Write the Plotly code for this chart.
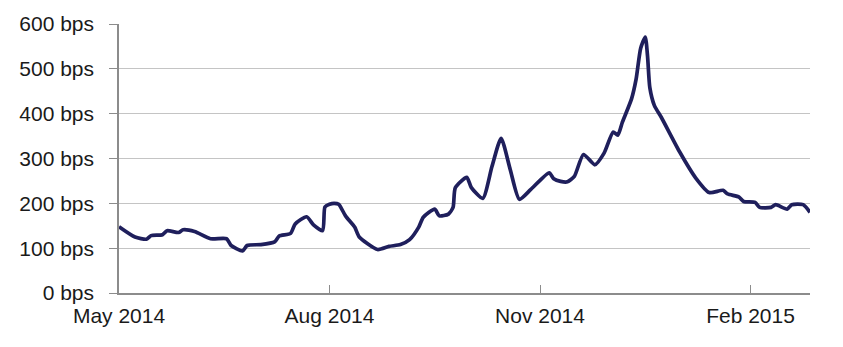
import plotly.graph_objects as go

dates = [
    "2014-05-01", "2014-05-08", "2014-05-13", "2014-05-15", "2014-05-20", "2014-05-22",
    "2014-05-27", "2014-05-29", "2014-06-03", "2014-06-10", "2014-06-17", "2014-06-19",
    "2014-06-24", "2014-06-26", "2014-07-02", "2014-07-08", "2014-07-10", "2014-07-15",
    "2014-07-17", "2014-07-22", "2014-07-25", "2014-07-29", "2014-07-30", "2014-08-01",
    "2014-08-03", "2014-08-05", "2014-08-08", "2014-08-12", "2014-08-14", "2014-08-22",
    "2014-08-27", "2014-09-01", "2014-09-05", "2014-09-09", "2014-09-11", "2014-09-16",
    "2014-09-18", "2014-09-22", "2014-09-24", "2014-09-25", "2014-09-30", "2014-10-02",
    "2014-10-07", "2014-10-11", "2014-10-15", "2014-10-19", "2014-10-23", "2014-10-28",
    "2014-11-05", "2014-11-07", "2014-11-10", "2014-11-13", "2014-11-16", "2014-11-20",
    "2014-11-25", "2014-11-29", "2014-12-03", "2014-12-05", "2014-12-07", "2014-12-11",
    "2014-12-13", "2014-12-15", "2014-12-17", "2014-12-18", "2014-12-19", "2014-12-21",
    "2014-12-24", "2015-01-01", "2015-01-08", "2015-01-14", "2015-01-20", "2015-01-22",
    "2015-01-27", "2015-01-29", "2015-02-03", "2015-02-05", "2015-02-10", "2015-02-12",
    "2015-02-17", "2015-02-19", "2015-02-24", "2015-02-27",
]
spread_bps = [
    148, 125, 120, 128, 130, 139,
    135, 141, 137, 121, 121, 106,
    94, 106, 108, 114, 127, 133,
    154, 170, 152, 139, 192, 198,
    200, 198, 172, 147, 125, 97,
    104, 108, 119, 147, 169, 187,
    172, 176, 191, 235, 258, 235,
    211, 282, 345, 275, 209, 231,
    268, 255, 249, 248, 260, 309,
    286, 312, 359, 352, 381, 433,
    477, 546, 571, 528, 458, 418,
    392, 315, 257, 224, 229, 221,
    214, 204, 202, 191, 191, 197,
    187, 197, 197, 180,
]

y_ticks = [0, 100, 200, 300, 400, 500, 600]
y_tick_text = [f"{v} bps" for v in y_ticks]
x_ticks = ["2014-05-01", "2014-08-01", "2014-11-01", "2015-02-01"]
x_tick_text = ["May 2014", "Aug 2014", "Nov 2014", "Feb 2015"]

fig = go.Figure()
fig.add_trace(go.Scatter(
    x=dates, y=spread_bps, mode="lines",
    line=dict(color="#1f1f5c", width=3.7, shape="spline", smoothing=0.6),
    showlegend=False,
))

fig.update_layout(
    width=843, height=347,
    margin=dict(l=119, r=33, t=20, b=54),
    paper_bgcolor="white", plot_bgcolor="white",
    font=dict(family="Liberation Sans, Arial, sans-serif", size=21, color="#1a1a1a"),
)
fig.update_yaxes(
    range=[0, 600], tickvals=y_ticks, ticktext=y_tick_text,
    showgrid=True, gridcolor="#c4c4c4", gridwidth=1,
    showline=True, linecolor="#8c8c8c", linewidth=1.5,
    ticks="outside", ticklen=8, tickcolor="#8c8c8c",
    ticklabelstandoff=11, zeroline=False,
)
fig.update_xaxes(
    range=["2014-05-01", "2015-02-27"], tickvals=x_ticks, ticktext=x_tick_text,
    showgrid=False, showline=True, linecolor="#8c8c8c", linewidth=1.5,
    ticks="inside", ticklen=8, tickcolor="#8c8c8c",
    ticklabelstandoff=3, zeroline=False,
)

fig.write_html("out.html")
